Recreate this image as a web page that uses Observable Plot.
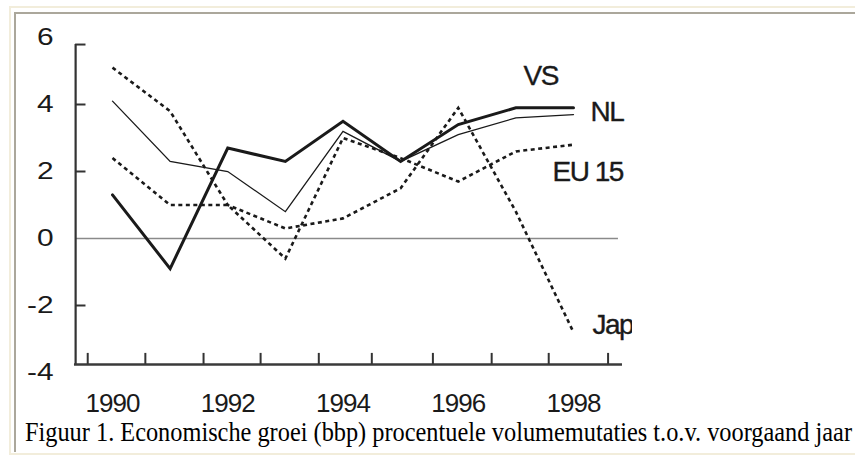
<!DOCTYPE html>
<html><head><meta charset="utf-8">
<script src="https://cdn.jsdelivr.net/npm/d3@7"></script>
<script src="https://cdn.jsdelivr.net/npm/@observablehq/plot@0.6"></script>
<style>
html,body{margin:0;padding:0;background:#fff;}
body{width:855px;height:455px;overflow:hidden;position:relative;}
#outer{position:absolute;left:9px;top:6px;width:900px;height:445px;border-left:2px solid #f2eddb;border-top:2px solid #f2eddb;border-bottom:2px solid #f2eddb;}
#inner{position:absolute;left:14px;top:12px;width:900px;height:438px;border-left:2px solid #aba79b;border-top:2px solid #aba79b;}
#chart{position:absolute;left:0;top:0;width:632px;height:420px;overflow:hidden;}
#caption{position:absolute;left:25px;top:419px;font-family:"Liberation Serif","Times New Roman",serif;font-size:25px;line-height:25px;white-space:nowrap;color:#000;transform-origin:0 0;}
</style></head>
<body>
<div id="outer"></div>
<div id="inner"></div>
<div id="chart"></div>
<div id="caption">Figuur 1. Economische groei (bbp) procentuele volumemutaties t.o.v. voorgaand jaar</div>
<script>
const years = [1990, 1991, 1992, 1993, 1994, 1995, 1996, 1997, 1998];
const vs    = [1.3, -0.9, 2.7, 2.3, 3.5, 2.3, 3.4, 3.9, 3.9];
const nl    = [4.1, 2.3, 2.0, 0.8, 3.2, 2.3, 3.1, 3.6, 3.7];
const eu15  = [2.4, 1.0, 1.0, -0.6, 3.0, 2.4, 1.7, 2.6, 2.8];
const japan = [5.1, 3.8, 1.0, 0.3, 0.6, 1.5, 3.9, 0.8, -2.8];
const seriesNames = ["VS", "NL", "EU 15", "Jap"];
const xTickLabels = [1990, 1992, 1994, 1996, 1998];
const yTickLabels = [6, 4, 2, 0, -2, -4];
const yTickMarks = [5.79, 4, 2, -2];
const xTickMarks = [1989.57, 1990.57, 1991.58, 1992.57, 1993.58, 1994.5, 1995.56, 1996.58, 1997.57, 1998.6];
const axisLeft = 1989.36, axisBottom = -3.76, axisTop = 5.79;

const last = years.length - 1;
const ink = "#1a1a1a";
const font = "Liberation Sans, Arial, sans-serif";
const dashed = {stroke: ink, strokeWidth: 2.6, strokeDasharray: "4,3.5", strokeLinecap: "butt", strokeLinejoin: "miter", strokeMiterlimit: 4};
const textInk = {fill: ink, stroke: ink, strokeWidth: 0.35};

const svg = Plot.plot({
  width: 632, height: 420,
  marginLeft: 112, marginRight: 59, marginTop: 37, marginBottom: 48,
  x: {domain: [1990, 1998]},
  y: {domain: [-4, 6]},
  style: {fontFamily: font, background: "transparent", color: ink},
  marks: [
    Plot.ruleY([0], {x1: axisLeft, x2: 1998.78, stroke: "#8a8a8a", strokeWidth: 1.4}),
    Plot.ruleX([axisLeft], {y1: axisBottom, y2: axisTop, stroke: "#333", strokeWidth: 2.2}),
    Plot.ruleY([axisBottom], {x1: axisLeft - 0.02, x2: 1998.85, stroke: "#3a3a3a", strokeWidth: 2.4}),
    Plot.ruleY(yTickMarks, {x1: axisLeft, x2: axisLeft + 0.18, stroke: "#333", strokeWidth: 2}),
    Plot.ruleX(xTickMarks, {y1: axisBottom, y2: axisBottom + 0.33, stroke: "#333", strokeWidth: 2}),
    Plot.line(years, {x: d => d, y: (d, i) => japan[i], ...dashed}),
    Plot.line(years, {x: d => d, y: (d, i) => eu15[i], ...dashed}),
    Plot.line(years, {x: d => d, y: (d, i) => nl[i], stroke: ink, strokeWidth: 1.3, strokeLinejoin: "miter", strokeMiterlimit: 4}),
    Plot.line(years, {x: d => d, y: (d, i) => vs[i], stroke: ink, strokeWidth: 3, strokeLinejoin: "miter", strokeMiterlimit: 4}),
    Plot.text([last], {x: i => years[i], y: i => vs[i], text: () => seriesNames[0], dx: -50, dy: -32, textAnchor: "start", fontSize: 28, ...textInk}),
    Plot.text([last], {x: i => years[i], y: i => nl[i], text: () => seriesNames[1], dx: 17, dy: -3, textAnchor: "start", fontSize: 28, ...textInk}),
    Plot.text([last], {x: i => years[i], y: i => eu15[i], text: () => seriesNames[2], dx: -21, dy: 27, textAnchor: "start", fontSize: 28, ...textInk}),
    Plot.text([last], {x: i => years[i], y: i => japan[i], text: () => seriesNames[3], dx: 19, dy: -7, textAnchor: "start", fontSize: 28, ...textInk}),
    Plot.axisY(yTickLabels, {tickSize: 0, tickPadding: 59, fontSize: 23, ...textInk, tickFormat: d => String(d)}),
    Plot.axisX(xTickLabels, {tickSize: 0, tickPadding: 21, fontSize: 26, ...textInk, tickFormat: d => String(d)})
  ]
});
svg.style.overflow = "hidden";
document.getElementById("chart").appendChild(svg);

d3.select(svg).selectAll('g[aria-label="y-axis tick label"] text').each(function () {
  const t = this.getAttribute("transform") || "";
  this.setAttribute("transform", t + " scale(1.3,1)");
});
d3.select(svg).selectAll('g[aria-label="text"] text').attr("letter-spacing", "-1.5px");
d3.select(svg).selectAll('g[aria-label="x-axis tick label"] text').attr("letter-spacing", "-1px");

const cap = document.getElementById("caption");
const w = cap.getBoundingClientRect().width;
cap.style.transform = `scale(${827 / w}, 1.06)`;
</script>
</body></html>
